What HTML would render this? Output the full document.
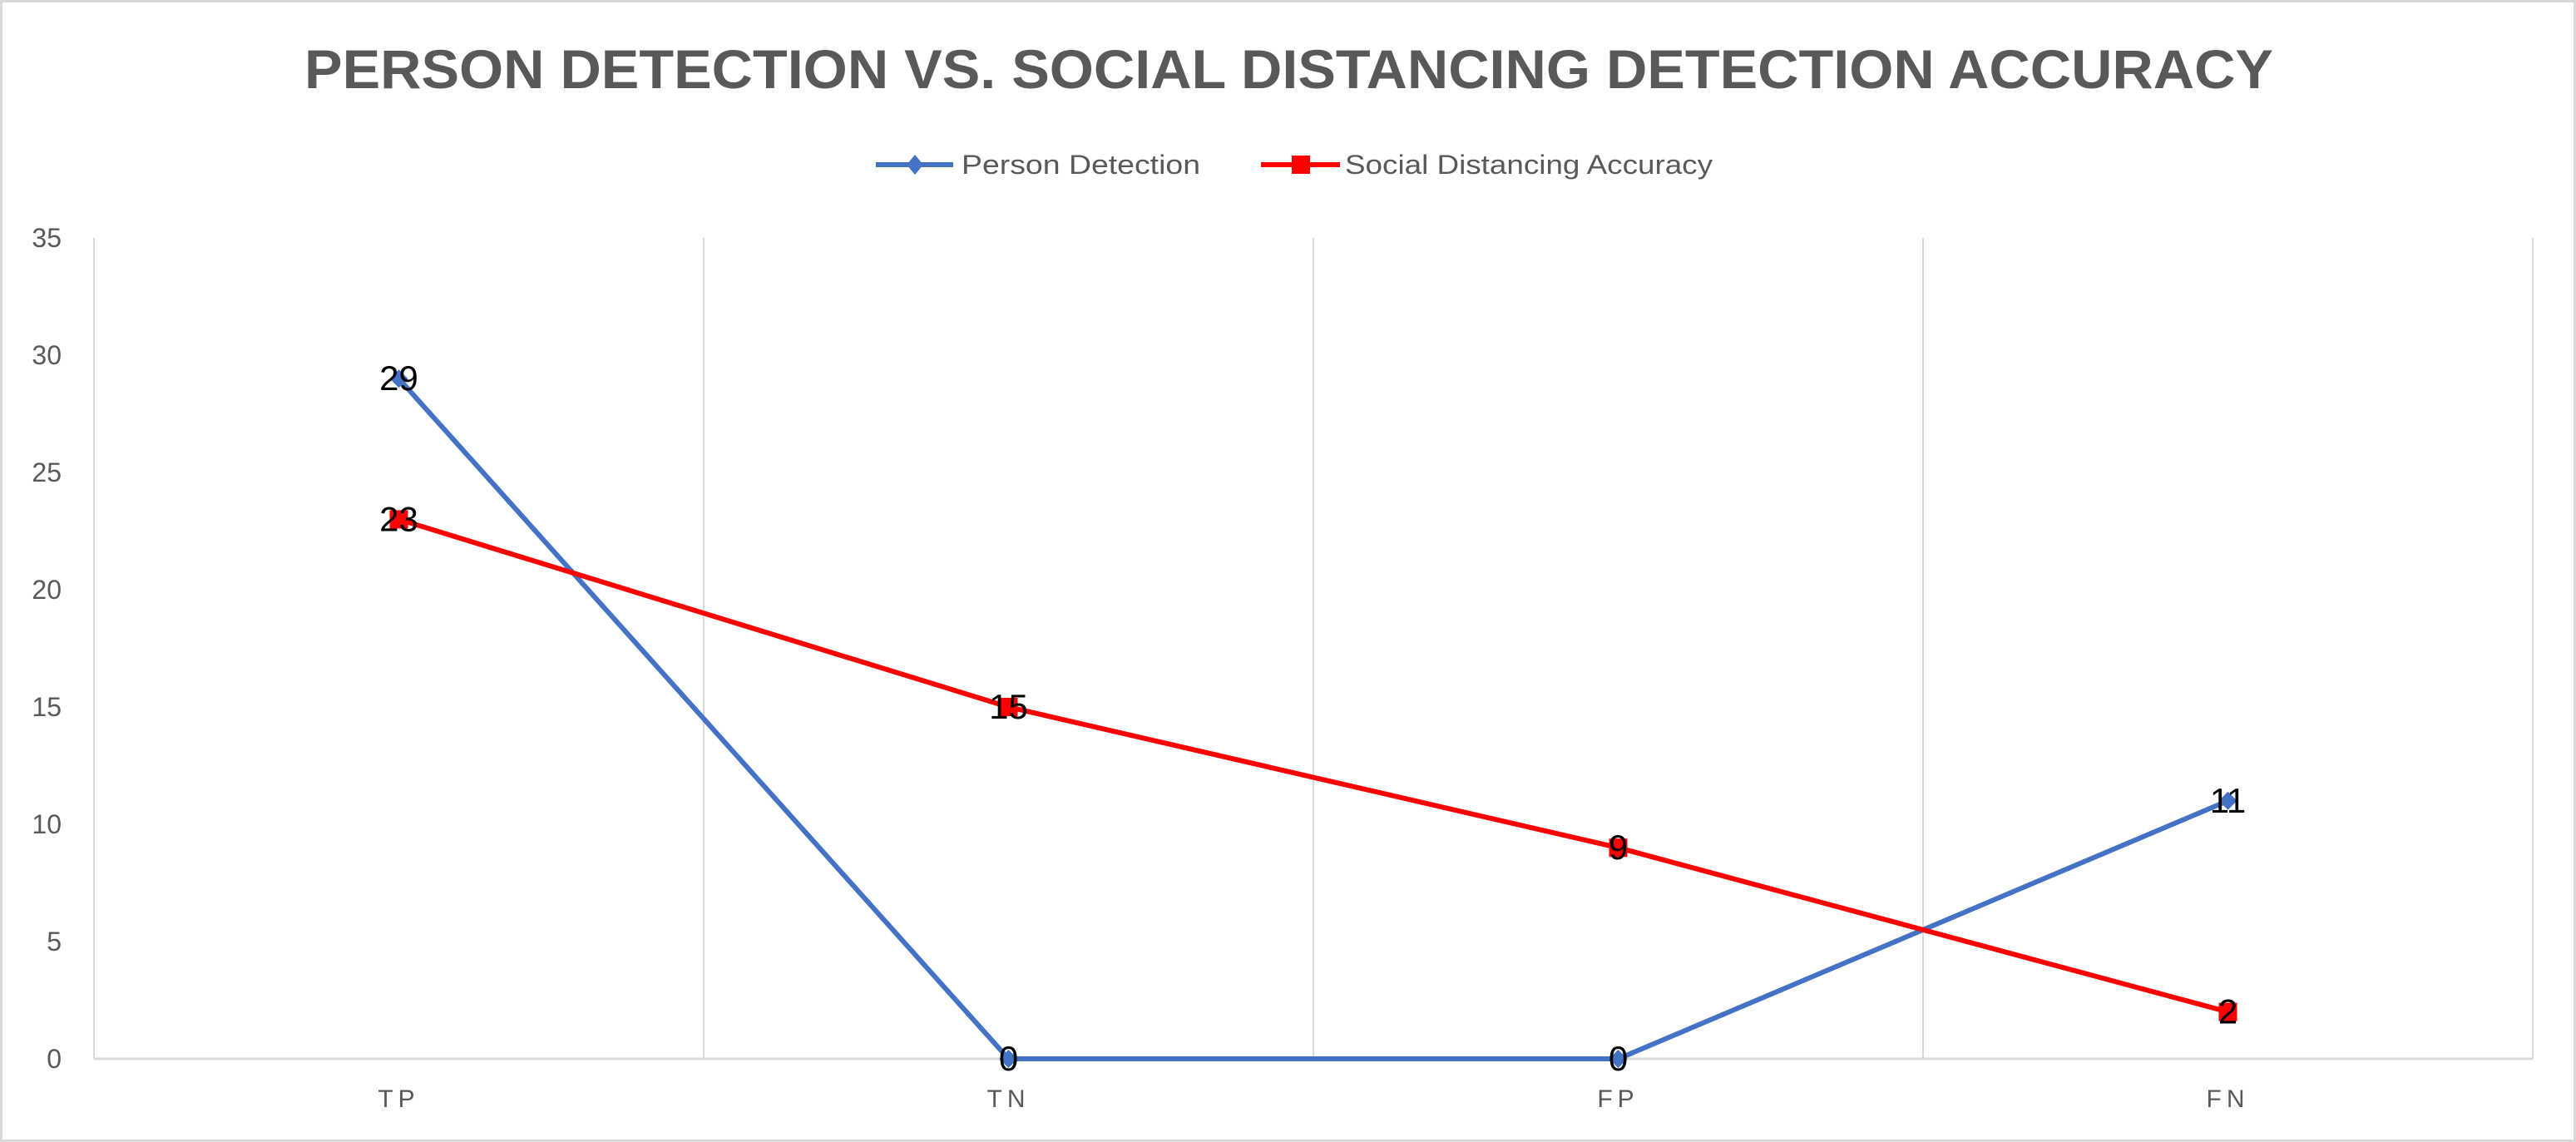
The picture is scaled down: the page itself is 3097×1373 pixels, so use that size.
<!DOCTYPE html>
<html><head><meta charset="utf-8"><style>
html,body{margin:0;padding:0;background:#fff;}
svg{display:block;font-family:"Liberation Sans",sans-serif;}
</style></head><body>
<svg id="chart" width="3097" height="1373" viewBox="0 0 3097 1373" xmlns="http://www.w3.org/2000/svg">
<rect x="1.5" y="1.5" width="3094" height="1370" fill="#fff" stroke="#d9d9d9" stroke-width="3"/>
<text x="366" y="106" textLength="2367" lengthAdjust="spacingAndGlyphs" font-size="66" font-weight="bold" fill="#595959">PERSON DETECTION VS. SOCIAL DISTANCING DETECTION ACCURACY</text>
<g>
 <g>
  <line x1="1053" y1="198" x2="1146" y2="198" stroke="#4472c4" stroke-width="6"/>
  <polygon points="1100,186 1110,198 1100,210 1090,198" fill="#4472c4"/>
  <text x="1156" y="209" font-size="32" fill="#595959" textLength="287" lengthAdjust="spacingAndGlyphs">Person Detection</text>
 </g>
 <g>
  <line x1="1516" y1="198" x2="1611" y2="198" stroke="#ff0000" stroke-width="6"/>
  <rect x="1553" y="187" width="22" height="22" fill="#ff0000"/>
  <text x="1617" y="209" font-size="32" fill="#595959" textLength="442" lengthAdjust="spacingAndGlyphs">Social Distancing Accuracy</text>
 </g>
</g>
<g id="grid"></g>
<g id="axes"></g>
<g id="series"></g>
<g id="labels"></g>
</svg>
<script>
const categories = ["TP","TN","FP","FN"];
const personDetection = [29,0,0,11];
const socialDistancing = [23,15,9,2];
const yTicks = [0,5,10,15,20,25,30,35];

const NS="http://www.w3.org/2000/svg";
const L=113, R=3045, T=286, B=1273, yMax=35;
const bw=(R-L)/categories.length;
function x(i){return L+bw*(i+0.5);}
function y(v){return B-(v/yMax)*(B-T);}
function mk(tag,attrs,parent){const e=document.createElementNS(NS,tag);for(const k in attrs)e.setAttribute(k,attrs[k]);document.getElementById(parent).appendChild(e);return e;}

for(let i=0;i<=categories.length;i++){
  const g=mk('line',{x1:L+bw*i,x2:L+bw*i,y1:T,y2:B,stroke:'#d9d9d9','stroke-width':2},'grid');
  
  
}
const ax=mk('line',{x1:L,x2:R,y1:B,y2:B,stroke:'#d9d9d9','stroke-width':3},'axes');


yTicks.forEach(v=>{
  const t=mk('text',{x:74,y:y(v)+11,'text-anchor':'end','font-size':32,fill:'#595959'},'axes');
  t.textContent=v;
  
  
});
categories.forEach((c,i)=>{
  const t=mk('text',{x:x(i),y:1331,'text-anchor':'middle','font-size':30,fill:'#595959','letter-spacing':'6'},'axes');
  t.textContent=c;
  
  
});
function series(vals,color,shape,name){
  const p=mk('polyline',{points:vals.map((v,i)=>x(i)+','+y(v)).join(' '),fill:'none',stroke:color,'stroke-width':6,'stroke-linejoin':'round'},'series');
  
  
  vals.forEach((v,i)=>{
    let m;
    if(shape==='diamond') m=mk('polygon',{points:`${x(i)},${y(v)-11} ${x(i)+11},${y(v)} ${x(i)},${y(v)+11} ${x(i)-11},${y(v)}`,fill:color},'series');
    else m=mk('rect',{x:x(i)-11,y:y(v)-11,width:22,height:22,fill:color},'series');
    
    
    const t=mk('text',{x:x(i),y:y(v)+14,'text-anchor':'middle','font-size':42,fill:'#000'},'labels');
    t.textContent=v;
    
    
  });
}
series(personDetection,'#4472c4','diamond','person-detection');
series(socialDistancing,'#ff0000','square','social-distancing');
</script>
</body></html>
